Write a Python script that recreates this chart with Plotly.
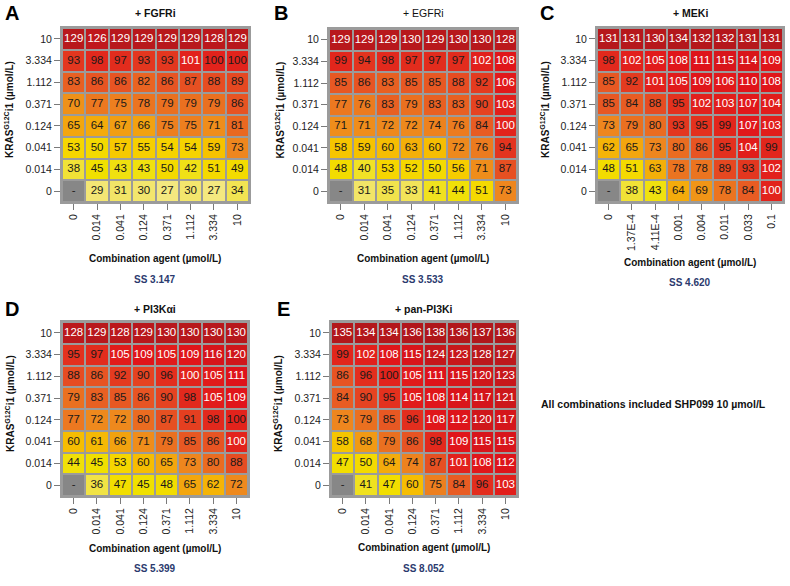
import plotly.graph_objects as go

# ---------------- data ----------------
kras_doses = ["0", "0.014", "0.041", "0.124", "0.371", "1.112", "3.334", "10"]  # bottom -> top
combo_doses_std = ["0", "0.014", "0.041", "0.124", "0.371", "1.112", "3.334", "10"]
combo_doses_mek = ["0", "1.37E-4", "4.11E-4", "0.001", "0.004", "0.011", "0.033", "0.1"]

# rows listed top (KRAS 10) -> bottom (KRAS 0); None = untreated cell "-"
fgfri = [
    [129, 126, 129, 129, 129, 129, 128, 129],
    [93, 98, 97, 93, 93, 101, 100, 100],
    [83, 86, 86, 82, 86, 87, 88, 89],
    [70, 77, 75, 78, 79, 79, 79, 86],
    [65, 64, 67, 66, 75, 75, 71, 81],
    [53, 50, 57, 55, 54, 54, 59, 73],
    [38, 45, 43, 43, 50, 42, 51, 49],
    [None, 29, 31, 30, 27, 30, 27, 34],
]
egfri = [
    [129, 129, 129, 130, 129, 130, 130, 128],
    [99, 94, 98, 97, 97, 97, 102, 108],
    [85, 86, 83, 85, 85, 88, 92, 106],
    [77, 76, 83, 79, 83, 83, 90, 103],
    [71, 71, 72, 72, 74, 76, 84, 100],
    [58, 59, 60, 63, 60, 72, 76, 94],
    [48, 40, 53, 52, 50, 56, 71, 87],
    [None, 31, 35, 33, 41, 44, 51, 73],
]
meki = [
    [131, 131, 130, 134, 132, 132, 131, 131],
    [98, 102, 105, 108, 111, 115, 114, 109],
    [85, 92, 101, 105, 109, 106, 110, 108],
    [85, 84, 88, 95, 102, 103, 107, 104],
    [73, 79, 80, 93, 95, 99, 107, 103],
    [62, 65, 73, 80, 86, 95, 104, 99],
    [48, 51, 63, 78, 78, 89, 93, 102],
    [None, 38, 43, 64, 69, 78, 84, 100],
]
pi3kai = [
    [128, 129, 128, 129, 130, 130, 130, 130],
    [95, 97, 105, 109, 105, 109, 116, 120],
    [88, 86, 92, 90, 96, 100, 105, 111],
    [79, 83, 85, 86, 90, 98, 105, 109],
    [77, 72, 72, 80, 87, 91, 98, 100],
    [60, 61, 66, 71, 79, 85, 86, 100],
    [44, 45, 53, 60, 65, 73, 80, 88],
    [None, 36, 47, 45, 48, 65, 62, 72],
]
panpi3ki = [
    [135, 134, 134, 136, 138, 136, 137, 136],
    [99, 102, 108, 115, 124, 123, 128, 127],
    [86, 96, 100, 105, 111, 115, 120, 123],
    [84, 90, 95, 105, 108, 114, 117, 121],
    [73, 79, 85, 96, 108, 112, 120, 117],
    [58, 68, 79, 86, 98, 109, 115, 115],
    [47, 50, 64, 74, 87, 101, 108, 112],
    [None, 41, 47, 60, 75, 84, 96, 103],
]

panel_letters = ["A", "B", "C", "D", "E"]
panel_titles = ["+ FGFRi", "+ EGFRi", "+ MEKi", "+ PI3Kαi", "+ pan-PI3Ki"]
synergy_scores = ["SS 3.147", "SS 3.533", "SS 4.620", "SS 5.399", "SS 8.052"]
footnote = "All combinations included SHP099 10 µmol/L"
x_title = "Combination agent (µmol/L)"
y_title = "KRAS<sup>G12C</sup>i1 (µmol/L)"

# cells showing "100" drawn with white text in the original (panel, row-from-top, col)
white_100 = {(1, 4, 7), (2, 7, 7), (3, 2, 5), (3, 5, 7)}

# ---------------- styling ----------------
W, H = 790, 586
FONT = "Arial, Liberation Sans, sans-serif"
GRID = "#9b9b9b"
MISSING = "#878787"

zmin, zmax = 25, 140
stops = [
    (25, "#f4e98a"), (29, "#f3e674"), (36, "#f1e345"), (45, "#f0e000"),
    (53, "#f6d600"), (59, "#f6c200"), (65, "#f3a60e"), (72, "#ee891d"),
    (78, "#eb7420"), (85, "#e75823"), (93, "#e3371f"), (100, "#e2231c"),
    (110, "#e0131a"), (120, "#cf171b"), (129, "#b8181c"), (140, "#ad161a"),
]
colorscale = [[(v - zmin) / (zmax - zmin), c] for v, c in stops]

# pixel boxes of each heatmap: (left, right, top, bottom)
boxes = [
    (62, 249, 28, 202),
    (329, 517, 29, 202),
    (597, 783, 28, 202),
    (62, 248, 322, 496),
    (331, 517, 322, 496),
]
extras = [
    dict(cx=155, ty=13, xt=258, ss=279, lx=12, yx=9, bold=True),
    dict(cx=423, ty=13, xt=258, ss=279, lx=281, yx=280, bold=False),
    dict(cx=690, ty=13, xt=262, ss=282, lx=547, yx=545, bold=True),
    dict(cx=155, ty=309, xt=548, ss=568, lx=12, yx=10, bold=True),
    dict(cx=424, ty=309, xt=547, ss=568, lx=283, yx=278, bold=True),
]

def px(x):
    return x / W

def py(y):
    return 1 - y / H

datasets = [fgfri, egfri, meki, pi3kai, panpi3ki]
xcats = [combo_doses_std, combo_doses_std, combo_doses_mek, combo_doses_std, combo_doses_std]

fig = go.Figure()
layout = dict(
    width=W, height=H, margin=dict(l=0, r=0, t=0, b=0), autosize=False,
    paper_bgcolor="white", plot_bgcolor=GRID, showlegend=False,
    font=dict(family=FONT, size=10, color="#222"),
)
annotations = []

for i, (data, xc) in enumerate(zip(datasets, xcats)):
    sfx = "" if i == 0 else str(i + 1)
    xa, ya = "x" + sfx, "y" + sfx
    rows = list(reversed(data))  # bottom -> top
    fig.add_trace(go.Heatmap(
        x=xc, y=kras_doses, z=rows, xaxis=xa, yaxis=ya,
        colorscale=colorscale, zmin=zmin, zmax=zmax, showscale=False,
        xgap=2, ygap=2, hoverongaps=False,
    ))
    zm = [[1 if v is None else None for v in r] for r in rows]
    fig.add_trace(go.Heatmap(
        x=xc, y=kras_doses, z=zm, xaxis=xa, yaxis=ya,
        colorscale=[[0, MISSING], [1, MISSING]], showscale=False,
        xgap=2, ygap=2, hoverongaps=False,
    ))
    tx, ty_, tt, tc = [], [], [], []
    nrows = len(data)
    for r_top, row in enumerate(data):
        for c, v in enumerate(row):
            tx.append(xc[c])
            ty_.append(kras_doses[nrows - 1 - r_top])
            if v is None:
                tt.append("-")
                tc.append("#222")
            else:
                tt.append(str(v))
                white = v > 100 or (v == 100 and (i, r_top, c) in white_100)
                tc.append("white" if white else "#1a1a1a")
    fig.add_trace(go.Scatter(
        x=tx, y=ty_, text=tt, mode="text", xaxis=xa, yaxis=ya,
        textfont=dict(family=FONT, size=11.5, color=tc), hoverinfo="skip",
    ))

    l, r, t, b = boxes[i]
    axis_common = dict(
        showgrid=False, zeroline=False, showline=True, mirror=True,
        linecolor=GRID, linewidth=2, ticks="outside", ticklen=6,
        tickcolor="#7a7a7a", tickwidth=1, tickfont=dict(family=FONT, size=10.5, color="#222"),
        type="category", fixedrange=True,
    )
    layout["xaxis" + sfx] = dict(
        axis_common, domain=[px(l), px(r)], anchor=ya, tickangle=-90,
        categoryorder="array", categoryarray=xc, range=[-0.5, 7.5],
    )
    layout["yaxis" + sfx] = dict(
        axis_common, domain=[py(b), py(t)], anchor=xa,
        categoryorder="array", categoryarray=kras_doses, range=[-0.5, 7.5],
    )

    e = extras[i]
    annotations += [
        dict(text="<b>%s</b>" % panel_letters[i], x=px(e["lx"]), y=py(e["ty"]),
             font=dict(family=FONT, size=20, color="black")),
        dict(text=("<b>%s</b>" % panel_titles[i]) if e["bold"] else panel_titles[i],
             x=px(e["cx"]), y=py(e["ty"]), font=dict(family=FONT, size=10.5, color="#111")),
        dict(text="<b>%s</b>" % x_title, x=px(e["cx"]), y=py(e["xt"]),
             font=dict(family=FONT, size=10, color="#111")),
        dict(text="<b>%s</b>" % synergy_scores[i], x=px(e["cx"]), y=py(e["ss"]),
             font=dict(family=FONT, size=10, color="#2b3a6e")),
        dict(text="<b>%s</b>" % y_title, x=px(e["yx"]), y=py((t + b) / 2 - 5), textangle=-90,
             font=dict(family=FONT, size=10, color="#111")),
    ]

annotations.append(dict(text="<b>%s</b>" % footnote, x=px(653), y=py(404),
                        font=dict(family=FONT, size=10.5, color="#111")))
for a in annotations:
    a.update(xref="paper", yref="paper", showarrow=False, xanchor="center", yanchor="middle")
layout["annotations"] = annotations

fig.update_layout(**layout)
fig.write_html("out.html", config={"responsive": False, "displayModeBar": False},
               post_script="document.body.style.margin='0';document.body.style.overflow='hidden';")
